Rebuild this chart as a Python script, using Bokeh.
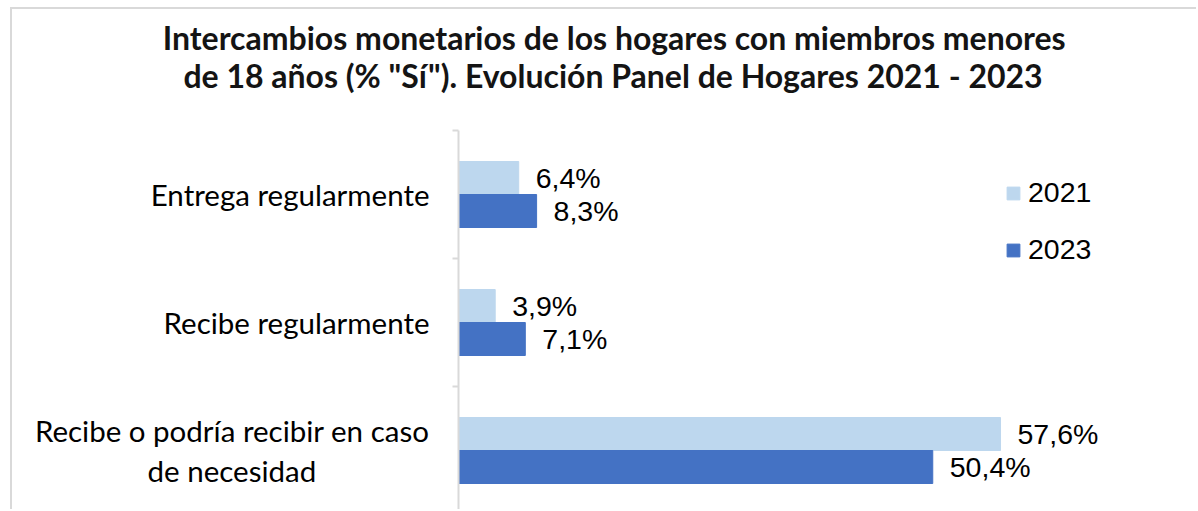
from bokeh.plotting import figure
from bokeh.layouts import column
from bokeh.models import Range1d, FixedTicker, Label, Legend, LegendItem, ColumnDataSource
from bokeh.core.properties import value
from bokeh.embed import file_html
from bokeh.resources import INLINE

categories = ["Entrega regularmente", "Recibe regularmente", "Recibe o podría recibir en caso\nde necesidad"]
years = ["2021", "2023"]
v2021 = [6.4, 3.9, 57.6]
v2023 = [8.3, 7.1, 50.4]
title_lines = ["Intercambios monetarios de los hogares con miembros menores",
               'de 18 años (% "Sí"). Evolución Panel de Hogares 2021 - 2023']

C_LIGHT = "#BDD7EE"
C_DARK = "#4472C4"
GRAY = "#d9d9d9"

W = 1184
TH = 111          # title strip height
H = 389           # chart height
TOP, LEFT = 10, 446
band_px = 128.0
frame_h = H - TOP
n = len(categories)
centers = [n - 0.5 - i for i in range(n)]
bar_h = 33.0 / band_px

# ---- title strip ----
t = figure(width=W, height=TH, output_backend="svg", toolbar_location=None,
           x_axis_location=None, y_axis_location=None,
           x_range=Range1d(0, 1), y_range=Range1d(0, 1),
           min_border=0, frame_align=False)
t.outline_line_color = None
t.xgrid.visible = False
t.ygrid.visible = False
for line, xc, yb in zip(title_lines, [601.7, 600.5], [83.5, 45.5]):
    t.add_layout(Label(x=xc, y=yb, x_units="screen", y_units="screen", text=line,
                       text_align="center", text_baseline="alphabetic",
                       text_font="Lato", text_font_style="bold",
                       text_font_size="32px", text_color="#141414"))

# ---- chart ----
p = figure(width=W, height=H, output_backend="svg", toolbar_location=None,
           x_range=Range1d(0, (W - LEFT) / 9.41),
           y_range=Range1d(n - frame_h / band_px, n),
           min_border_top=TOP, min_border_left=LEFT, min_border_right=0, min_border_bottom=0,
           frame_align=False)
p.outline_line_color = None
p.xgrid.visible = False
p.ygrid.visible = False
p.xaxis.visible = False

def axis_label(s):
    lines = s.split("\n")
    if len(lines) == 1:
        return s
    # centre the short second line under the first (labels are right-aligned)
    return lines[0] + "\n" + lines[1] + "\u00a0" * 15

yax = p.yaxis[0]
yax.ticker = FixedTicker(ticks=centers, minor_ticks=[float(k) for k in range(1, n + 1)])
yax.major_label_overrides = {c: axis_label(lab) for c, lab in zip(centers, categories)}
yax.axis_line_color = GRAY
yax.axis_line_width = 2
yax.major_tick_line_color = None
yax.minor_tick_line_color = GRAY
yax.minor_tick_line_width = 2
yax.minor_tick_out = 6
yax.minor_tick_in = 0
yax.major_label_standoff = 23
yax.major_label_text_font = "Lato"
yax.major_label_text_font_size = "29.5px"
yax.major_label_text_line_height = 1.15
yax.major_label_text_color = "#000000"

src = ColumnDataSource(dict(
    y1=[c + bar_h / 2 for c in centers], y2=[c - bar_h / 2 for c in centers],
    v1=v2021, v2=v2023,
    t1=[f"{v:.1f}%".replace(".", ",") for v in v2021],
    t2=[f"{v:.1f}%".replace(".", ",") for v in v2023],
))
r1 = p.hbar(y="y1", right="v1", left=0, height=bar_h, color=C_LIGHT, source=src)
r2 = p.hbar(y="y2", right="v2", left=0, height=bar_h, color=C_DARK, source=src)
for ycol, vcol, tcol in [("y1", "v1", "t1"), ("y2", "v2", "t2")]:
    p.text(x=vcol, y=ycol, text=tcol, source=src, x_offset=17, text_baseline="middle",
           text_align="left", text_font=value("Liberation Sans"), text_font_size="28.5px",
           text_color="#000000")

legend = Legend(items=[LegendItem(label=years[0], renderers=[r1]),
                       LegendItem(label=years[1], renderers=[r2])],
                location=(547, 243), padding=0, margin=0, border_line_color=None,
                background_fill_alpha=0, glyph_width=16, glyph_height=16,
                label_height=28, spacing=24, label_standoff=7,
                label_text_font="Liberation Sans", label_text_font_size="28.5px",
                label_text_color="#000000")
p.add_layout(legend)

layout = column(t, p, spacing=0, margin=(7, 0, 0, 10),
                styles={"border-left": f"2px solid {GRAY}", "border-top": f"2px solid {GRAY}"})

open("out.html", "w").write(file_html(layout, INLINE))
